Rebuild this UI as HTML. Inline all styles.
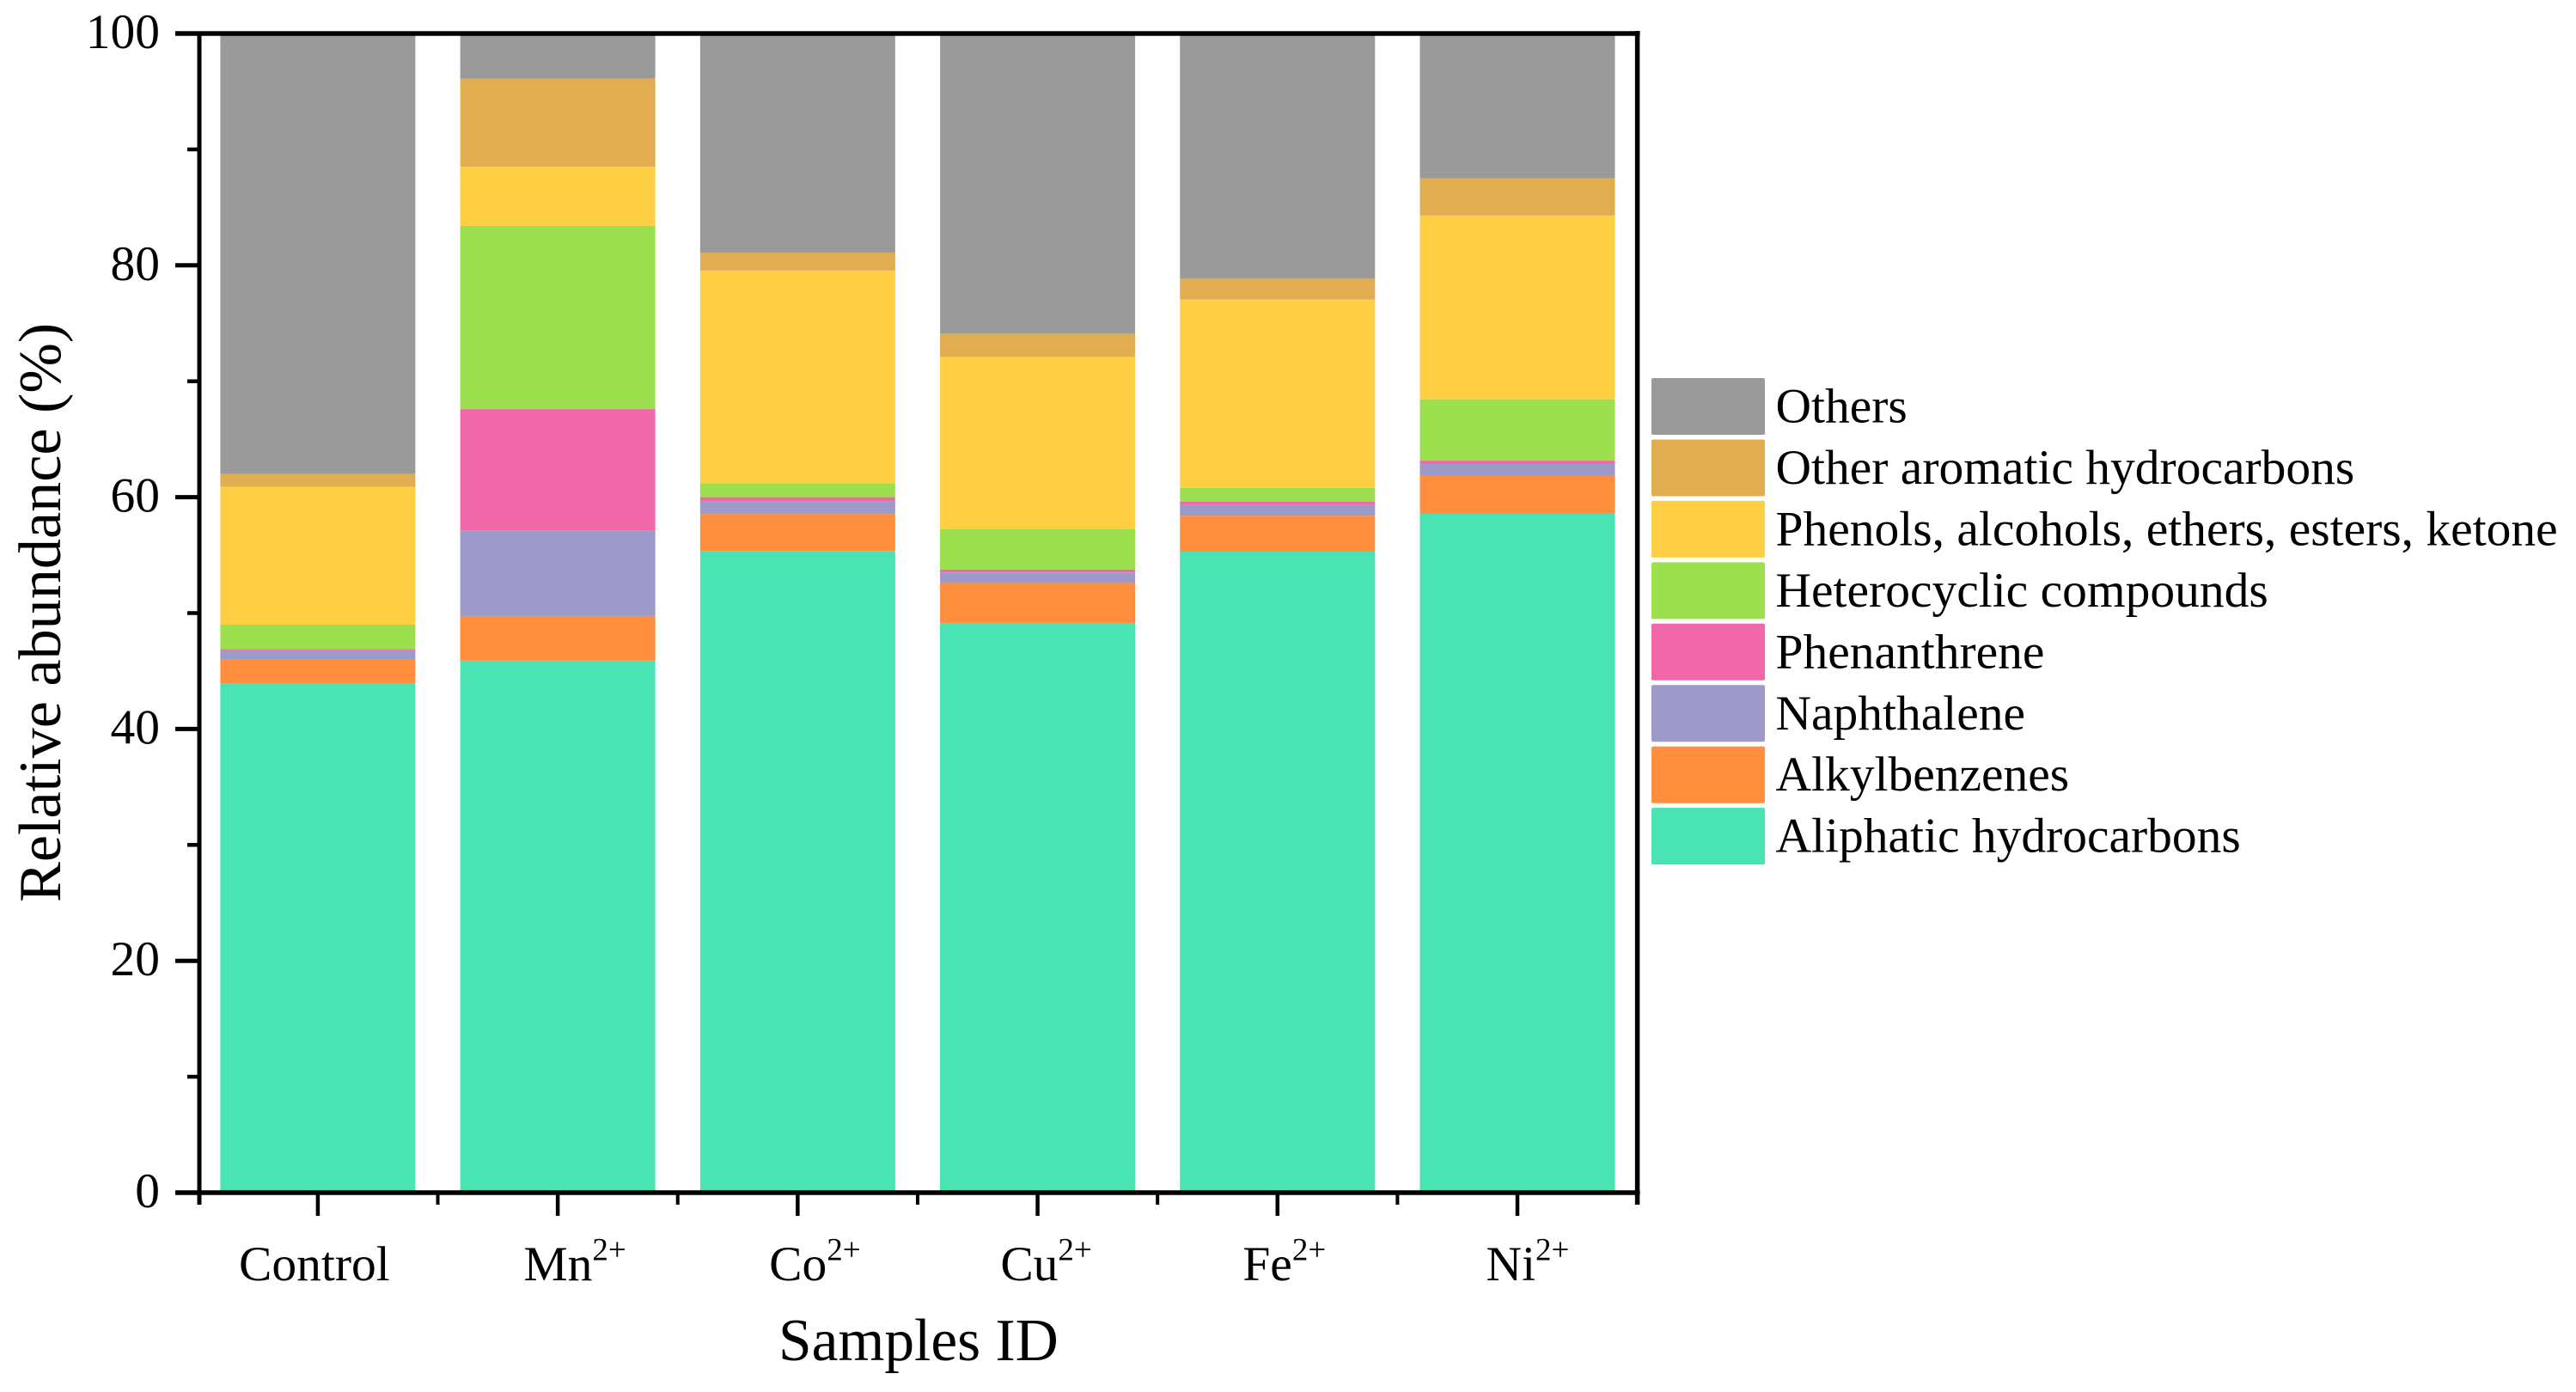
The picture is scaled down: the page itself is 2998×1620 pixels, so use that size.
<!DOCTYPE html>
<html lang="en">
<head>
<meta charset="utf-8">
<title>Relative abundance by sample</title>
<style>
  html, body { margin: 0; padding: 0; background: #ffffff; }
  svg { display: block; }
  text { font-family: "Liberation Serif", "Times New Roman", serif; fill: #000000; }
</style>
</head>
<body>
<svg id="chart" xmlns="http://www.w3.org/2000/svg" width="2998" height="1620" viewBox="0 0 2998 1620">
  <rect x="0" y="0" width="2998" height="1620" fill="#ffffff"/>
  <g id="bars"></g>
  <g id="axes"></g>
  <g id="legend"></g>
  <text transform="translate(70 1050) rotate(-90)" font-size="70.2">Relative abundance (%)</text>
  <text x="906" y="1583" font-size="69.4">Samples ID</text>
</svg>
<script>
const categories = ['Control', 'Mn', 'Co', 'Cu', 'Fe', 'Ni'];
const superscripts = ['', '2+', '2+', '2+', '2+', '2+'];
const seriesNames = ['Aliphatic hydrocarbons', 'Alkylbenzenes', 'Naphthalene', 'Phenanthrene', 'Heterocyclic compounds', 'Phenols, alcohols, ethers, esters, ketone', 'Other aromatic hydrocarbons', 'Others'];
const seriesColors = ['#49e3b4', '#ff8f3f', '#9d99c9', '#f168aa', '#9de04f', '#ffcf43', '#e0ae50', '#9a9a9a'];
const aliphatic = [43.9, 45.9, 55.35, 49.15, 55.3, 58.6];
const alkylbenzenes = [2.1, 3.85, 3.2, 3.45, 3.1, 3.3];
const naphthalene = [0.8, 7.35, 1.1, 0.9, 0.95, 1.0];
const phenanthrene = [0.1, 10.5, 0.35, 0.25, 0.25, 0.25];
const heterocyclic = [2.1, 15.8, 1.2, 3.5, 1.2, 5.3];
const phenols = [11.9, 5.1, 18.35, 14.85, 16.25, 15.85];
const otherAromatic = [1.1, 7.6, 1.55, 2.0, 1.8, 3.2];
const others = [38.0, 3.8, 18.9, 25.9, 21.15, 12.5];
const yMajorTicks = [0, 20, 40, 60, 80, 100];
const yMinorTicks = [10, 30, 50, 70, 90];

const seriesValues = [aliphatic, alkylbenzenes, naphthalene, phenanthrene, heterocyclic, phenols, otherAromatic, others];
const SVGNS = 'http://www.w3.org/2000/svg';

const plot = { left: 230.3, right: 1905.6, top: 39, bottom: 1388 };
const yAxisX = 232;
const yDomain = [0, 100];
const band = (plot.right - plot.left) / categories.length;
const barWidth = band * 0.813;
const labelNudge = [-4, 20, 20, 10, 8, 12];

function yScale(v) {
  return plot.bottom - (v - yDomain[0]) / (yDomain[1] - yDomain[0]) * (plot.bottom - plot.top);
}
function xCenter(i) {
  return plot.left + band * (i + 0.5);
}
function make(tag, attrs) {
  const node = document.createElementNS(SVGNS, tag);
  for (const k in attrs) node.setAttribute(k, attrs[k]);
  return node;
}
function slug(s) {
  return s.toLowerCase().replace(/[^a-z0-9]+/g, '-').replace(/-+$/, '');
}

const barsGroup = document.getElementById('bars');
categories.forEach(function (cat, i) {
  let cumulative = 0;
  seriesValues.forEach(function (values, s) {
    const y0 = yScale(cumulative);
    cumulative += values[i];
    const y1 = yScale(cumulative);
    const rect = make('rect', { x: xCenter(i) - barWidth / 2, y: y1, width: barWidth, height: y0 - y1, fill: seriesColors[s] });
    
    
    barsGroup.appendChild(rect);
  });
});

const axesGroup = document.getElementById('axes');
function line(x1, y1, x2, y2, w, name) {
  const l = make('line', { x1: x1, y1: y1, x2: x2, y2: y2, stroke: '#000000', 'stroke-width': w });
  
  
  axesGroup.appendChild(l);
}
line(yAxisX, plot.top - 2.5, yAxisX, plot.bottom + 14, 5, 'y-axis-line');
line(plot.right, plot.top - 3, plot.right, plot.bottom + 14, 5.5, 'y-axis-right-line');
line(yAxisX - 28, plot.top, plot.right + 3, plot.top, 5.5, 'top-axis-line');
line(yAxisX - 28, plot.bottom, plot.right + 3, plot.bottom, 5.5, 'x-axis-line');

yMajorTicks.forEach(function (t) {
  if (t !== 0 && t !== 100) line(yAxisX - 28, yScale(t), yAxisX, yScale(t), 5, 'y-tick-' + t);
  const label = make('text', { x: 186, y: yScale(t) + 17, 'font-size': 57.5, 'text-anchor': 'end' });
  label.textContent = String(t);
  
  
  axesGroup.appendChild(label);
});
yMinorTicks.forEach(function (t) {
  line(yAxisX - 14, yScale(t), yAxisX, yScale(t), 4.5, 'y-minor-tick-' + t);
});
categories.forEach(function (cat, i) {
  line(xCenter(i), plot.bottom, xCenter(i), plot.bottom + 27, 4.5, 'x-tick-' + slug(cat));
  if (i > 0) line(plot.left + band * i, plot.bottom, plot.left + band * i, plot.bottom + 14, 4, 'x-minor-tick-' + i);
  const label = make('text', { x: xCenter(i) + labelNudge[i], y: 1490, 'font-size': 57.5, 'text-anchor': 'middle' });
  
  
  const main = make('tspan', {});
  main.textContent = cat;
  label.appendChild(main);
  if (superscripts[i]) {
    const sup = make('tspan', { dy: -23.5, 'font-size': 37 });
    sup.textContent = superscripts[i];
    label.appendChild(sup);
  }
  axesGroup.appendChild(label);
});

const legendGroup = document.getElementById('legend');
const legendOrder = seriesNames.map(function (_, i) { return seriesNames.length - 1 - i; });
legendOrder.forEach(function (s, row) {
  const top = 440 + row * 71.45;
  const entry = make('g', {});
  
  
  const swatch = make('rect', { x: 1922, y: top, width: 132, height: 66, rx: 2, ry: 2, fill: seriesColors[s] });
  
  
  entry.appendChild(swatch);
  const label = make('text', { x: 2066.5, y: top + 51.5, 'font-size': 57.5 });
  label.textContent = seriesNames[s];
  
  
  entry.appendChild(label);
  legendGroup.appendChild(entry);
});
</script>
</body>
</html>
